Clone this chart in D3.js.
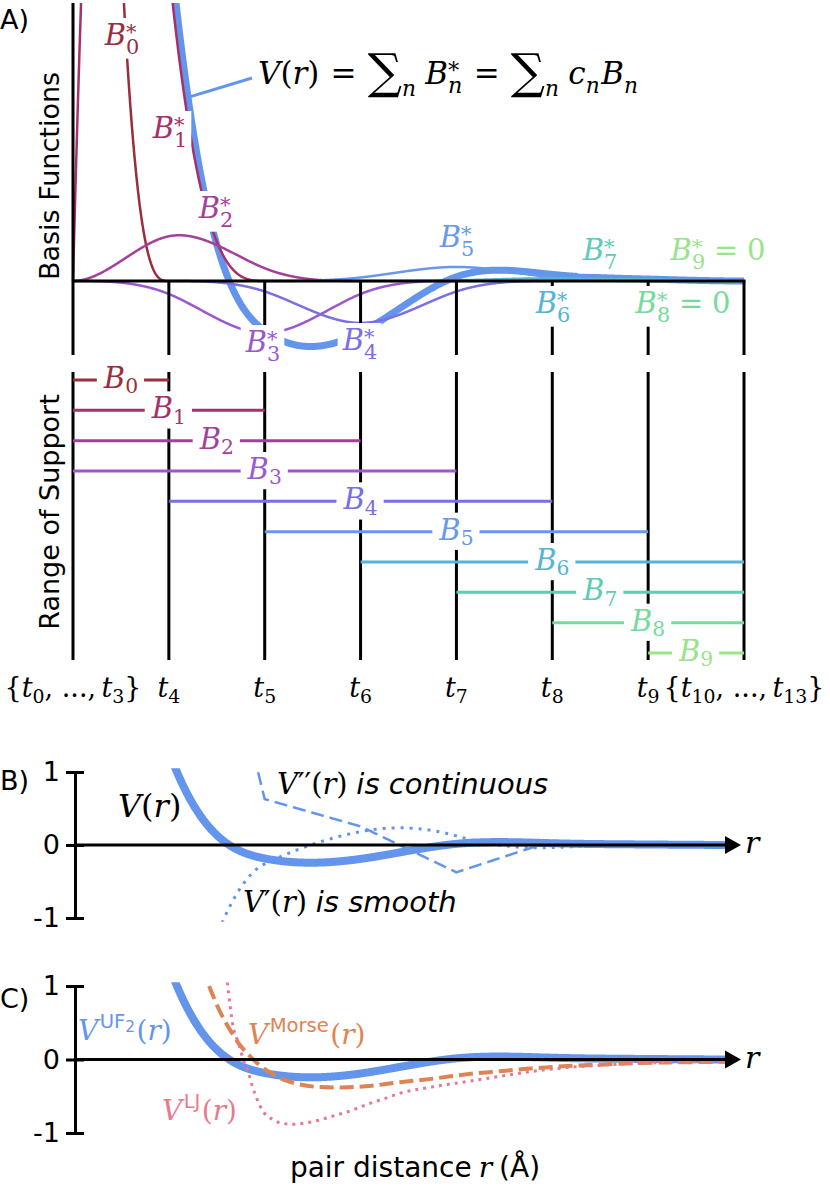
<!DOCTYPE html>
<html><head><meta charset="utf-8">
<script src="https://cdn.jsdelivr.net/npm/d3@7"></script>
<style>body{margin:0;background:#fff} svg{display:block}</style>
</head><body>
<svg id="fig" width="830" height="1186"></svg>
<script>
// ---------------- data ----------------
const knotR = [0,0,0,0,1,2,3,4,5,6,7,7,7,7];          // clamped cubic knot vector t0..t13
const knotTicks = [0,1,2,3,4,5,6,7];                    // distinct knot positions
const knotTickNames = [["0","3"],["4"],["5"],["6"],["7"],["8"],["9"],["10","13"]];
const basisNames = ["0","1","2","3","4","5","6","7","8","9"];
const coef = [10, 4.65, 0.284, -0.289, -0.233, 0.078, 0.015, 0.008, 0, 0]; // c_n
const basisColors = ["#9b2d3c","#a7306a","#a3409a","#9b58cf","#7a6fe3","#6699ec","#58b3d6","#5ccdb5","#76db9a","#9ae38b"];
const morseR = [1.42,1.53,1.64,1.74,1.85,1.95,2.06,2.21,2.37,2.58,2.79,3.05,3.41,3.76,4.11,4.45,4.80,5.15,5.50,5.84,6.20,6.54,6.82];
const morseV = [1.0,0.66,0.40,0.20,0.04,-0.08,-0.18,-0.28,-0.34,-0.375,-0.38,-0.365,-0.31,-0.26,-0.20,-0.16,-0.12,-0.09,-0.07,-0.05,-0.04,-0.035,-0.03];
const ljR = [1.61,1.64,1.67,1.71,1.74,1.78,1.82,1.87,1.92,1.98,2.09,2.19,2.30,2.44,2.58,2.71,2.89,3.07,3.23,3.41,3.76,4.11,4.45,4.80,5.15,5.50,5.84,6.20,6.54,6.82];
const ljV = [1.05,0.72,0.45,0.28,0.16,-0.02,-0.14,-0.36,-0.54,-0.70,-0.82,-0.87,-0.88,-0.86,-0.82,-0.77,-0.70,-0.61,-0.54,-0.46,-0.37,-0.30,-0.23,-0.16,-0.11,-0.08,-0.055,-0.04,-0.03,-0.025];
const yTicksBC = [-1,0,1];

// ---------------- B-spline model ----------------
function N(i,p,r){
  if(p===0){
    const a=knotR[i], b=knotR[i+1];
    if(a===b) return 0;
    if(r>=a && r<b) return 1;
    if(r===b && b===knotR[knotR.length-1]) return 1;
    return 0;
  }
  let v=0;
  const d1=knotR[i+p]-knotR[i], d2=knotR[i+p+1]-knotR[i+1];
  if(d1>0) v+=(r-knotR[i])/d1*N(i,p-1,r);
  if(d2>0) v+=(knotR[i+p+1]-r)/d2*N(i+1,p-1,r);
  return v;
}
function dN(i,p,k,r){
  if(k===0) return N(i,p,r);
  let v=0;
  const d1=knotR[i+p]-knotR[i], d2=knotR[i+p+1]-knotR[i+1];
  if(d1>0) v+=p/d1*dN(i,p-1,k-1,r);
  if(d2>0) v-=p/d2*dN(i+1,p-1,k-1,r);
  return v;
}
const Vk=(r,k)=>coef.reduce((s,c,n)=>s+c*dN(n,3,k,r),0);

// ---------------- helpers ----------------
const svg=d3.select('#fig');
const SERIF="'DejaVu Serif', serif", SANS="'DejaVu Sans', sans-serif";
// one <text> per label; pieces are tspans. A piece with "ys" stacks its last
// character (the star) above its first one inside the same tspan.
function math(parent,x,y,parts,o){
  o=Object.assign({fs:28,anchor:'start',color:'#000',bg:false,padX:6,padY:0},o);
  const g=parent.append('g');
  const txt=g.append('text').attr('fill',o.color);
  let cx=0;
  for(const p of parts){
    const size=o.fs*(p.s||1);
    const start=cx+(p.gap||0)*o.fs;
    const t=txt.append('tspan').attr('x',start).attr('y',(p.dy||0)*o.fs)
      .attr('font-family',p.f==='sans'?SANS:SERIF)
      .attr('font-style',p.i?'italic':'normal')
      .attr('font-size',size).text(p.t);
    if(p.ys){
      const n=p.t.length; const xs=[]; let xx=start, wmax=0;
      for(let k=0;k<n-1;k++){ xs.push(xx); xx+=t.node().getSubStringLength(k,1); }
      const wStar=t.node().getSubStringLength(n-1,1);
      xs.push(start);
      t.attr('x',xs.join(' ')).attr('y',p.ys.map(v=>v*o.fs).join(' '));
      cx=Math.max(xx,start+wStar);
    } else {
      cx=start+t.node().getComputedTextLength();
    }
  }
  const off=o.anchor==='middle'?-cx/2:(o.anchor==='end'?-cx:0);
  g.attr('transform',`translate(${x+off},${y})`);
  if(o.bg){
    const bb=txt.node().getBBox();
    g.insert('rect',':first-child').attr('x',bb.x-o.padX).attr('y',bb.y-o.padY)
      .attr('width',bb.width+2*o.padX).attr('height',bb.height+2*o.padY).attr('fill','#fff');
  }
  return g;
}
const I=(t,e)=>Object.assign({t,i:true},e||{});
const R=(t,e)=>Object.assign({t},e||{});
const SUB=(t,e)=>Object.assign({t,i:false,s:0.7,dy:0.3},e||{});
const SUPI=(t,e)=>Object.assign({t,i:true,s:0.7,dy:0.3},e||{});
const SUBSTAR=(t,ital)=>({t:t+'*',i:!!ital,s:0.72,ys:[...Array(t.length).fill(0.3),-0.2]});

// ---------------- scales ----------------
const xA=d3.scaleLinear().domain([0,7]).range([73,744]);
const yA=d3.scaleLinear().domain([0,1]).range([281,11]);
const rowY=d3.scaleLinear().domain([0,9]).range([380,653]);
const yB=d3.scaleLinear().domain([-1,1]).range([918,772]);
const yC=d3.scaleLinear().domain([-1,1]).range([1133,986]);

const defs=svg.append('defs');
defs.append('clipPath').attr('id','clipA').append('rect').attr('x',0).attr('y',3).attr('width',830).attr('height',352);
defs.append('clipPath').attr('id','clipB').append('rect').attr('x',0).attr('y',yB(1.05)).attr('width',830).attr('height',yB(-1.05)-yB(1.05));
defs.append('clipPath').attr('id','clipC').append('rect').attr('x',0).attr('y',yC(1.05)).attr('width',830).attr('height',yC(-1.05)-yC(1.05));

const rs=d3.range(0,7.0001,0.005);
const BLUE='#6495ed';

// ================= Panel A (basis functions) =================
const gA=svg.append('g').attr('clip-path','url(#clipA)');
const lineA=d3.line().x(d=>xA(d[0])).y(d=>yA(d[1]));
gA.append('path').attr('d',lineA(rs.map(r=>[r,Vk(r,0)]))).attr('fill','none')
  .attr('stroke',BLUE).attr('stroke-width',7);
coef.forEach((c,n)=>{
  const rr=d3.range(knotR[n],knotR[n+4]+1e-9,0.005);
  gA.append('path').attr('d',lineA(rr.map(r=>[r,c*N(n,3,r)]))).attr('fill','none')
    .attr('stroke',basisColors[n]).attr('stroke-width',2.5);
});
svg.append('line').attr('x1',xA(0)).attr('x2',xA(0)).attr('y1',3).attr('y2',355).attr('stroke','#000').attr('stroke-width',3);
svg.append('line').attr('x1',xA(0)).attr('x2',xA(7)+1.5).attr('y1',yA(0)).attr('y2',yA(0)).attr('stroke','#000').attr('stroke-width',3);
svg.selectAll('.ktA').data(knotTicks.slice(1)).join('line')
  .attr('x1',d=>xA(d)).attr('x2',d=>xA(d)).attr('y1',yA(0)).attr('y2',355).attr('stroke','#000').attr('stroke-width',3);

const labA=[[122,45],[170,138],[216,218],[263,352],[360,350],[457,247],[553,313],[600,260],[683,313],[718,260]];
basisNames.forEach((nm,n)=>{
  const parts=[I('B'),SUBSTAR(nm)];
  if(coef[n]===0) parts.push(R('=',{gap:0.3}),R('0',{gap:0.3}));
  math(svg,labA[n][0],labA[n][1],parts,{fs:29,anchor:'middle',color:basisColors[n],bg:true,padX:4});
});
svg.append('line').attr('x1',xA(1.2)).attr('y1',yA(Vk(1.2,0))).attr('x2',252).attr('y2',78)
  .attr('stroke',BLUE).attr('stroke-width',3);
math(svg,258,84,[I('V'),R('('),I('r'),R(')'),R('=',{gap:0.36}),
  R('∑',{gap:0.36,s:1.55,dy:0.13}),SUPI('n',{dy:0.38}),I('B',{gap:0.3}),SUBSTAR('n',true),
  R('=',{gap:0.36}),R('∑',{gap:0.36,s:1.55,dy:0.13}),SUPI('n',{dy:0.38}),I('c',{gap:0.3}),SUPI('n'),I('B',{gap:0.05}),SUPI('n')],{fs:31});

// ================= Range of support =================
svg.selectAll('.ktR').data(knotTicks).join('line')
  .attr('x1',d=>xA(d)).attr('x2',d=>xA(d)).attr('y1',372).attr('y2',660).attr('stroke','#000').attr('stroke-width',3);
basisNames.forEach((nm,n)=>{
  const a=knotR[n], b=knotR[n+4];
  svg.append('line').attr('x1',xA(a)).attr('x2',xA(b)).attr('y1',rowY(n)).attr('y2',rowY(n))
    .attr('stroke',basisColors[n]).attr('stroke-width',3);
  math(svg,xA((a+b)/2),rowY(n)+8,[I('B'),SUB(nm,{dy:0.18})],{fs:29,anchor:'middle',color:basisColors[n],bg:true,padX:6});
});
knotTicks.forEach((k,j)=>{
  const nm=knotTickNames[j];
  let parts;
  if(nm.length===1) parts=[I('t'),SUB(nm[0],{dy:0.22})];
  else parts=[R('{'),I('t'),SUB(nm[0],{dy:0.22}),R(', ...,'),I('t',{gap:0.2}),SUB(nm[1],{dy:0.22}),R('}')];
  math(svg,xA(k),697,parts,{fs:27,anchor:'middle'});
});
svg.append('text').attr('x',0).attr('y',29).attr('font-family',SANS).attr('font-size',27).text('A)');
svg.append('text').attr('transform','translate(59,176) rotate(-90)').attr('text-anchor','middle')
  .attr('font-family',SANS).attr('font-size',27).text('Basis Functions');
svg.append('text').attr('transform','translate(59,512) rotate(-90)').attr('text-anchor','middle')
  .attr('font-family',SANS).attr('font-size',27).text('Range of Support');

// ================= Panel B =================
const rsBC=rs.filter(r=>r<=6.85);
const gB=svg.append('g').attr('clip-path','url(#clipB)');
const lineB=d3.line().x(d=>xA(d[0])).y(d=>yB(d[1]));
gB.append('path').attr('d',lineB(rsBC.map(r=>[r,Vk(r,0)]))).attr('fill','none').attr('stroke',BLUE).attr('stroke-width',8);
gB.append('path').attr('d',lineB(rsBC.map(r=>[r,Vk(r,2)]))).attr('fill','none').attr('stroke',BLUE).attr('stroke-width',2.5).attr('stroke-dasharray','13,6');
gB.append('path').attr('d',lineB(rsBC.map(r=>[r,Vk(r,1)]))).attr('fill','none').attr('stroke',BLUE).attr('stroke-width',3).attr('stroke-dasharray','3,6');

function axisBC(yS,zeroY){
  const g=svg.append('g').attr('transform','translate(75,0)')
    .call(d3.axisLeft(yS).tickValues(yTicksBC).tickSize(9).tickSizeOuter(0).tickPadding(6).tickFormat(d=>String(d)));
  g.select('.domain').attr('stroke','#000').attr('stroke-width',3);
  g.selectAll('.tick line').attr('x1',-9).attr('x2',9).attr('stroke','#000').attr('stroke-width',3);
  g.selectAll('.tick text').attr('font-family',SANS).attr('font-size',27).attr('fill','#000');
  svg.append('line').attr('x1',75).attr('x2',727).attr('y1',zeroY).attr('y2',zeroY).attr('stroke','#000').attr('stroke-width',3);
  svg.append('path').attr('d',`M725,${zeroY-9}L741,${zeroY}L725,${zeroY+9}Z`).attr('fill','#000');
  math(svg,745,zeroY+8,[I('r')],{fs:30});
}
axisBC(yB,yB(0));
svg.append('text').attr('x',0).attr('y',790).attr('font-family',SANS).attr('font-size',27).text('B)');
math(svg,118,817,[I('V'),R('('),I('r'),R(')')],{fs:32});
math(svg,277,794,[I('V'),R('′′'),R('('),I('r'),R(')'),{t:'is continuous',f:'sans',i:true,gap:0.3}],{fs:29});
math(svg,243,912,[I('V'),R('′'),R('('),I('r'),R(')'),{t:'is smooth',f:'sans',i:true,gap:0.3}],{fs:29});

// ================= Panel C =================
const gC=svg.append('g').attr('clip-path','url(#clipC)');
const lineC=d3.line().x(d=>xA(d[0])).y(d=>yC(d[1]));
const lineCs=d3.line().x(d=>xA(d[0])).y(d=>yC(d[1])).curve(d3.curveMonotoneX);
gC.append('path').attr('d',lineC(rsBC.map(r=>[r,Vk(r,0)]))).attr('fill','none').attr('stroke',BLUE).attr('stroke-width',8);
gC.append('path').attr('d',lineCs(morseR.map((r,i)=>[r,morseV[i]]))).attr('fill','none').attr('stroke','#dd8452').attr('stroke-width',4).attr('stroke-dasharray','14,6');
gC.append('path').attr('d',lineCs(ljR.map((r,i)=>[r,ljV[i]]))).attr('fill','none').attr('stroke','#e9798e').attr('stroke-width',3).attr('stroke-dasharray','3,5');
axisBC(yC,yC(0));
svg.append('text').attr('x',0).attr('y',1008).attr('font-family',SANS).attr('font-size',27).text('C)');
const SUPS=(t,e)=>Object.assign({t,f:'sans',s:0.7,dy:-0.42,gap:0.05},e||{});
math(svg,78,1040,[I('V'),SUPS('UF'),{t:'2',f:'sans',s:0.55,dy:-0.3},R('(',{gap:0.05}),I('r'),R(')')],{fs:28,color:BLUE});
math(svg,248,1044,[I('V'),SUPS('Morse'),R('(',{gap:0.05}),I('r'),R(')')],{fs:28,color:'#dd8452'});
math(svg,162,1120,[I('V'),SUPS('LJ'),R('(',{gap:0.05}),I('r'),R(')')],{fs:28,color:'#e9798e'});
math(svg,415,1177,[{t:'pair distance',f:'sans'},I('r',{gap:0.25}),{t:'(Å)',f:'sans',gap:0.25}],{fs:28,anchor:'middle'});
</script>
</body></html>
